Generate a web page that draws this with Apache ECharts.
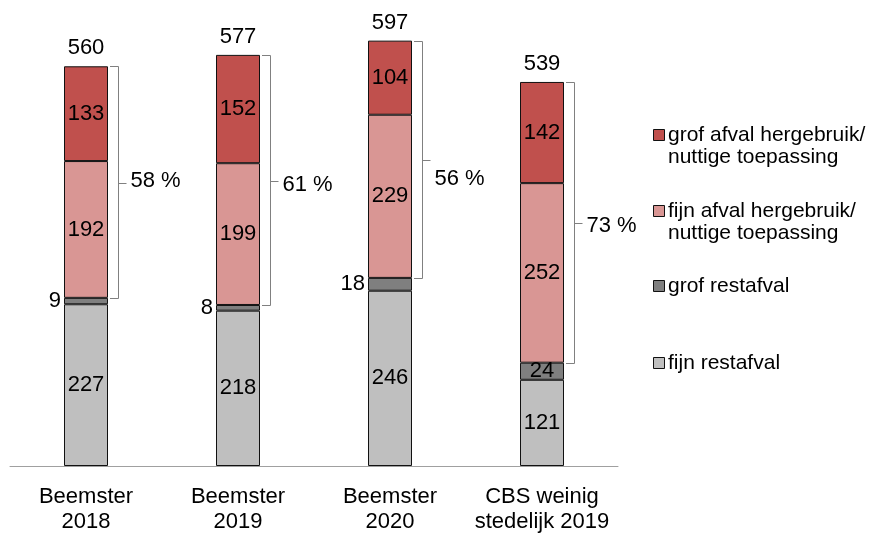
<!DOCTYPE html>
<html><head><meta charset="utf-8">
<script src="https://cdn.jsdelivr.net/npm/echarts@6/dist/echarts.min.js"></script>
<style>html,body{margin:0;padding:0;background:#fff}#c{width:869px;height:534px}</style>
</head><body><div id="c"></div>
<script>
// ---- data ----
const categories = ['Beemster\n2018', 'Beemster\n2019', 'Beemster\n2020', 'CBS weinig\nstedelijk 2019'];
const seriesNames = ['grof afval hergebruik/\nnuttige toepassing', 'fijn afval hergebruik/\nnuttige toepassing', 'grof restafval', 'fijn restafval'];
const grofHergebruik = [133, 152, 104, 142];
const fijnHergebruik = [192, 199, 229, 252];
const grofRest = [9, 8, 18, 24];
const fijnRest = [227, 218, 246, 121];
const totals = [560, 577, 597, 539];
const percentLabels = ['58 %', '61 %', '56 %', '73 %'];

// ---- styles ----
const FONT = '"Liberation Sans", Arial, sans-serif';
const FS = 22;
const colors = ['#C0504D', '#D99694', '#7F7F7F', '#BFBFBF'];
const pctDy = [-3, 3, 18, 2];
const legendY = [135, 211, 286, 363];
const BAR_W = 44;

const labelBase = { show: true, color: '#000', fontFamily: FONT, fontSize: FS };

const seriesData = [grofHergebruik, fijnHergebruik, grofRest, fijnRest];
const barSeries = [3, 2, 1, 0].map(k => {
  let data = seriesData[k];
  if (k === 2) {
    data = data.map(v => ({ value: v, label: v < 20 ? { position: 'left', distance: 3 } : { position: 'inside' } }));
  }
  return {
    type: 'bar',
    stack: 'a',
    barWidth: BAR_W,
    name: seriesNames[k],
    data: data,
    itemStyle: { color: colors[k], borderColor: '#111', borderWidth: 1 },
    label: Object.assign({}, labelBase, { position: 'inside' })
  };
});

const bracketData = categories.map((c, i) => [
  i,
  grofHergebruik[i] + fijnHergebruik[i] + grofRest[i] + fijnRest[i],
  grofRest[i] + fijnRest[i]
]);

const bracketSeries = {
  type: 'custom',
  silent: true,
  z: 10,
  encode: { x: 0, y: 1 },
  data: bracketData,
  renderItem: function (params, api) {
    const i = api.value(0);
    const top = api.coord([i, api.value(1)]);
    const bot = api.coord([i, api.value(2)]);
    const x0 = Math.round(top[0] + BAR_W / 2 + 2);
    const bx = x0 + 8.5;
    const ty = Math.round(top[1]) + 0.5;
    const by = Math.round(bot[1]) + 0.5;
    const mid = Math.round((ty + by) / 2) + 0.5;
    return {
      type: 'group',
      children: [
        { type: 'polyline', shape: { points: [[x0, ty], [bx, ty], [bx, by], [x0, by]] },
          style: { stroke: '#808080', lineWidth: 1, fill: null } },
        { type: 'line', shape: { x1: bx, y1: mid, x2: bx + 8, y2: mid },
          style: { stroke: '#808080', lineWidth: 1 } },
        { type: 'text', style: { text: percentLabels[i], x: bx + 12, y: mid + pctDy[i],
          verticalAlign: 'middle', align: 'left', fill: '#000', font: FS + 'px ' + FONT } },
        { type: 'text', style: { text: String(totals[i]), x: top[0], y: top[1] - 18,
          verticalAlign: 'middle', align: 'center', fill: '#000', font: FS + 'px ' + FONT } }
      ]
    };
  }
};

const legendGraphics = [];
seriesNames.forEach((n, k) => {
  const cy = legendY[k];
  legendGraphics.push({ type: 'rect', shape: { x: 653.5, y: cy - 5.5, width: 11, height: 11 },
    style: { fill: colors[k], stroke: '#111', lineWidth: 1 } });
  legendGraphics.push({ type: 'text', style: { text: n, x: 668, y: cy - 11, verticalAlign: 'top',
    align: 'left', lineHeight: 22, fill: '#000', font: '21px ' + FONT } });
});

const chart = echarts.init(document.getElementById('c'), null, { renderer: 'canvas' });
chart.setOption({
  animation: false,
  backgroundColor: '#fff',
  textStyle: { fontFamily: FONT },
  grid: { left: 10, right: 251, top: 38.5, bottom: 68, containLabel: false },
  xAxis: {
    type: 'category',
    data: categories,
    axisLine: { show: true, lineStyle: { color: '#a0a0a0', width: 1 } },
    axisTick: { show: false },
    axisLabel: { color: '#000', fontFamily: FONT, fontSize: FS, lineHeight: 25, margin: 18, interval: 0 }
  },
  yAxis: { type: 'value', min: 0, max: 600, show: false, splitLine: { show: false } },
  series: barSeries.concat([bracketSeries]),
  graphic: legendGraphics
});
</script>
</body></html>
